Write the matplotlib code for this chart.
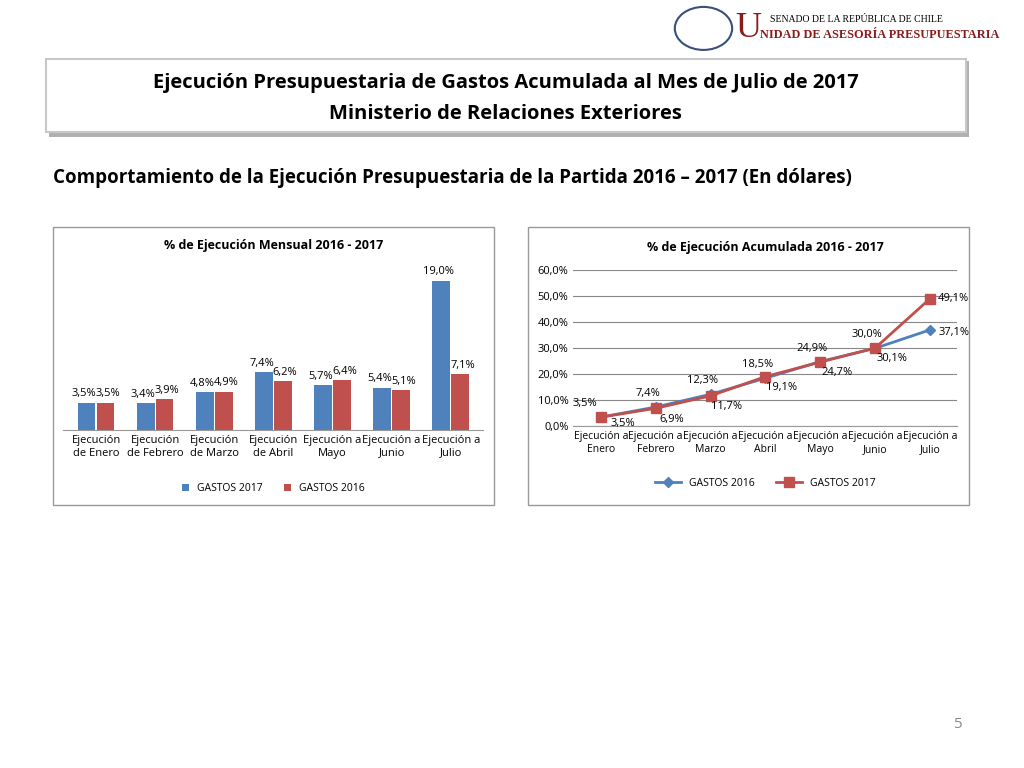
import matplotlib.pyplot as plt
import matplotlib.patches as mpatches
import numpy as np

plt.rcParams["font.family"] = "Open Sans"

months_bar = ["Ejecución\nde Enero", "Ejecución\nde Febrero", "Ejecución\nde Marzo",
              "Ejecución\nde Abril", "Ejecución a\nMayo", "Ejecución a\nJunio", "Ejecución a\nJulio"]
gastos_2017_mes = [3.5, 3.4, 4.8, 7.4, 5.7, 5.4, 19.0]
gastos_2016_mes = [3.5, 3.9, 4.9, 6.2, 6.4, 5.1, 7.1]

months_line = ["Ejecución a\nEnero", "Ejecución a\nFebrero", "Ejecución a\nMarzo",
               "Ejecución a\nAbril", "Ejecución a\nMayo", "Ejecución a\nJunio", "Ejecución a\nJulio"]
gastos_2016_acum = [3.5, 7.4, 12.3, 18.5, 24.9, 30.0, 37.1]
gastos_2017_acum = [3.5, 6.9, 11.7, 19.1, 24.7, 30.1, 49.1]

BLUE = "#4f81bd"
RED = "#c0504d"

def pct(v):
    return f"{v:.1f}%".replace(".", ",")

fig = plt.figure(figsize=(10.24, 7.68), dpi=100)

# header banner
shadow = mpatches.Rectangle((0.048, 0.822), 0.898, 0.098, transform=fig.transFigure,
                            facecolor="#b0b0b0", edgecolor="none", zorder=-2)
banner = mpatches.Rectangle((0.045, 0.828), 0.898, 0.095, transform=fig.transFigure,
                            facecolor="white", edgecolor="#c8c8c8", lw=1.5, zorder=-1)
fig.patches += [shadow, banner]
fig.text(0.494, 0.892, "Ejecución Presupuestaria de Gastos Acumulada al Mes de Julio de 2017",
         ha="center", va="center", fontsize=14.5, fontweight="bold")
fig.text(0.494, 0.852, "Ministerio de Relaciones Exteriores",
         ha="center", va="center", fontsize=14.5, fontweight="bold")
fig.text(0.052, 0.768, "Comportamiento de la Ejecución Presupuestaria de la Partida 2016 – 2017 (En dólares)",
         ha="left", va="center", fontsize=13.5, fontweight="bold")

# logo
logo = mpatches.Circle((0.687, 0.963), 0.028, transform=fig.transFigure,
                       facecolor="white", edgecolor="#3a4f7a", lw=1.5)
fig.patches.append(logo)
fig.text(0.718, 0.963, "U", fontsize=26, color="#8b1a1a", fontfamily="Liberation Serif",
         ha="left", va="center")
fig.text(0.752, 0.975, "SENADO DE LA REPÚBLICA DE CHILE", fontsize=7,
         fontfamily="Liberation Serif", va="center")
fig.text(0.742, 0.955, "NIDAD DE ASESORÍA PRESUPUESTARIA", fontsize=8.8, color="#8b1a1a",
         fontfamily="Liberation Serif", fontweight="bold", va="center")
fig.text(0.935, 0.052, "5", fontsize=11, color="#888888", ha="center")

# chart frames
for x0 in (0.052, 0.516):
    fig.patches.append(mpatches.Rectangle((x0, 0.343), 0.43, 0.362, transform=fig.transFigure,
                                          facecolor="none", edgecolor="#999999", lw=1))

# bar chart
ax = fig.add_axes([0.062, 0.44, 0.41, 0.21])
x = np.arange(len(months_bar))
w = 0.3
ax.bar(x - w / 2 - 0.01, gastos_2017_mes, w, color=BLUE, label="GASTOS 2017")
ax.bar(x + w / 2 + 0.01, gastos_2016_mes, w, color=RED, label="GASTOS 2016")
for i in range(len(x)):
    ax.text(x[i] - w / 2 - 0.05, gastos_2017_mes[i] + 0.4, pct(gastos_2017_mes[i]),
            ha="center", va="bottom", fontsize=8)
    ax.text(x[i] + w / 2 + 0.05, gastos_2016_mes[i] + 0.4, pct(gastos_2016_mes[i]),
            ha="center", va="bottom", fontsize=8)
ax.set_ylim(0, 20.5)
ax.set_xlim(-0.55, 6.55)
ax.set_yticks([])
ax.set_xticks(x)
ax.set_xticklabels(months_bar, fontsize=8)
ax.tick_params(axis="x", length=0)
for s in ["top", "right", "left"]:
    ax.spines[s].set_visible(False)
ax.spines["bottom"].set_color("#999999")
ax.set_title("% de Ejecución Mensual 2016 - 2017", fontsize=9, fontweight="bold", y=1.07)
ax.legend(loc="upper center", bbox_to_anchor=(0.5, -0.27), ncol=2, frameon=False,
          fontsize=7.5, handlelength=0.7)

# line chart
ax2 = fig.add_axes([0.56, 0.445, 0.375, 0.203])
xl = np.arange(len(months_line))
ax2.plot(xl, gastos_2016_acum, color=BLUE, marker="D", ms=5, lw=2, label="GASTOS 2016")
ax2.plot(xl, gastos_2017_acum, color=RED, marker="s", ms=7, lw=2, label="GASTOS 2017")
for i in range(len(xl)):
    if i == 0:
        ax2.text(xl[i] - 0.3, gastos_2016_acum[i] + 3, pct(gastos_2016_acum[i]),
                 ha="center", va="bottom", fontsize=8)
        ax2.text(xl[i] + 0.4, 1.2, pct(gastos_2017_acum[i]),
                 ha="center", va="center", fontsize=8)
    elif i < 6:
        ax2.text(xl[i] - 0.15, gastos_2016_acum[i] + 3, pct(gastos_2016_acum[i]),
                 ha="center", va="bottom", fontsize=8)
        ax2.text(xl[i] + 0.3, gastos_2017_acum[i] - 2, pct(gastos_2017_acum[i]),
                 ha="center", va="top", fontsize=8)
    else:
        ax2.text(xl[i] + 0.15, gastos_2017_acum[i], pct(gastos_2017_acum[i]),
                 ha="left", va="center", fontsize=8)
        ax2.text(xl[i] + 0.15, gastos_2016_acum[i] - 1, pct(gastos_2016_acum[i]),
                 ha="left", va="center", fontsize=8)
ax2.set_ylim(0, 60)
ax2.set_xlim(-0.5, 6.5)
ax2.set_yticks(np.arange(0, 61, 10))
ax2.set_yticklabels([pct(v) for v in np.arange(0, 61, 10)], fontsize=8)
ax2.set_xticks(xl)
ax2.set_xticklabels(months_line, fontsize=7.5)
ax2.tick_params(length=0)
ax2.grid(axis="y", color="#888888", lw=0.8)
ax2.set_axisbelow(True)
for s in ["top", "right", "left"]:
    ax2.spines[s].set_visible(False)
ax2.spines["bottom"].set_color("#999999")
ax2.set_title("% de Ejecución Acumulada 2016 - 2017", fontsize=9, fontweight="bold", y=1.07)
ax2.legend(loc="upper center", bbox_to_anchor=(0.5, -0.27), ncol=2, frameon=False,
           fontsize=7.5, handlelength=2.5)

fig.savefig("out.png", dpi=100)
